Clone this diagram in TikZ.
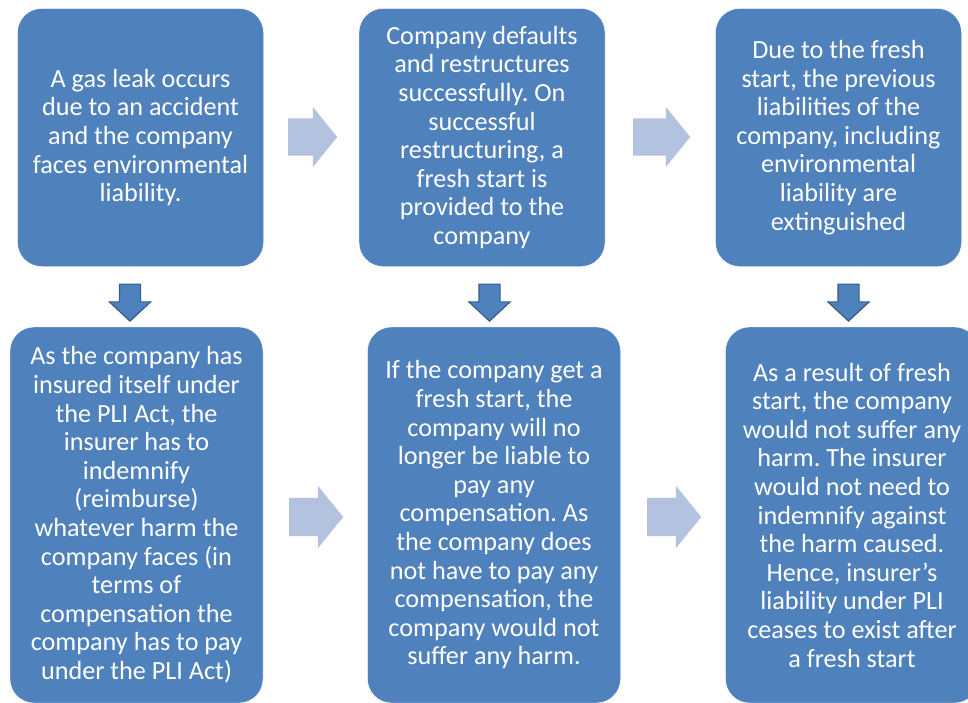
\documentclass[tikz,border=0pt]{standalone}
\usepackage{fontspec}
\setmainfont{Carlito}
\usepackage{tikz}
\usetikzlibrary{shapes.arrows, positioning}
\definecolor{boxblue}{RGB}{79,129,189}
\definecolor{boxedge}{RGB}{56,93,138}
\definecolor{arrowgrey}{RGB}{179,194,222}
\frenchspacing

\begin{document}
\begin{tikzpicture}[
    x=1pt, y=-1pt,
    stage/.style={fill=boxblue, draw=white, thin, rounded corners=24pt, text=white, align=center,
        inner sep=0pt, font=\fontsize{26.2}{28.6}\selectfont},
    topstage/.style={stage, minimum width=246pt, minimum height=258pt},
    lowstage/.style={stage, minimum width=253pt, minimum height=376pt},
    nextarrow/.style={single arrow, anchor=tail, fill=arrowgrey, inner xsep=0pt, inner ysep=18.5pt,
        single arrow head extend=11.5pt, single arrow head indent=0pt, single arrow tip angle=102},
    downarrow/.style={single arrow, anchor=tail, rotate=-90, fill=boxblue, draw=boxedge, line width=1.2pt,
        inner xsep=0pt, inner ysep=10pt, minimum height=37pt,
        single arrow head extend=10pt, single arrow head indent=0pt, single arrow tip angle=94}
]
    \clip (0,0) rectangle (968,702);

    % Top row
    \node[topstage] (leak) at (140.5,137.5) {A gas leak occurs\\due to an accident\\and the company\\faces environmental\\liability.};
    \node[topstage] (default) at (482,137.5) {Company defaults\\and restructures\\successfully. On\\successful\\restructuring, a\\fresh start is\\provided to the\\company};
    \node[topstage] (extinct) at (838.5,137.5) {Due to the fresh\\start, the previous\\liabilities of the\\company, including\\environmental\\liability are\\extinguished};

    % Bottom row
    \node[lowstage] (insured) at (136.5,515) {As the company has\\insured itself under\\the PLI Act, the\\insurer has to\\indemnify\\(reimburse)\\whatever harm the\\company faces (in\\terms of\\compensation the\\company has to pay\\under the PLI Act)};
    \node[lowstage] (noliab) at (494,515) {If the company get a\\fresh start, the\\company will no\\longer be liable to\\pay any\\compensation. As\\the company does\\not have to pay any\\compensation, the\\company would not\\suffer any harm.};
    \node[lowstage] (ceases) at (852,515) {As a result of fresh\\start, the company\\would not suffer any\\harm. The insurer\\would not need to\\indemnify against\\the harm caused.\\Hence, insurer’s\\liability under PLI\\ceases to exist after\\a fresh start};

    % Arrows to the right
    \node[nextarrow, minimum height=49pt] (a1) at (288,137) {};
    \node[nextarrow, minimum height=57pt] (a2) at (633,137) {};
    \node[nextarrow, minimum height=54pt, inner ysep=19pt, single arrow head extend=12pt] (a3) at (289,517) {};
    \node[nextarrow, minimum height=54pt, inner ysep=19pt, single arrow head extend=12pt] (a4) at (647,517) {};

    % Arrows down
    \node[downarrow] (d1) at (130,283.5) {};
    \node[downarrow] (d2) at (489.5,283.5) {};
    \node[downarrow] (d3) at (848.5,283.5) {};
\end{tikzpicture}
\end{document}
